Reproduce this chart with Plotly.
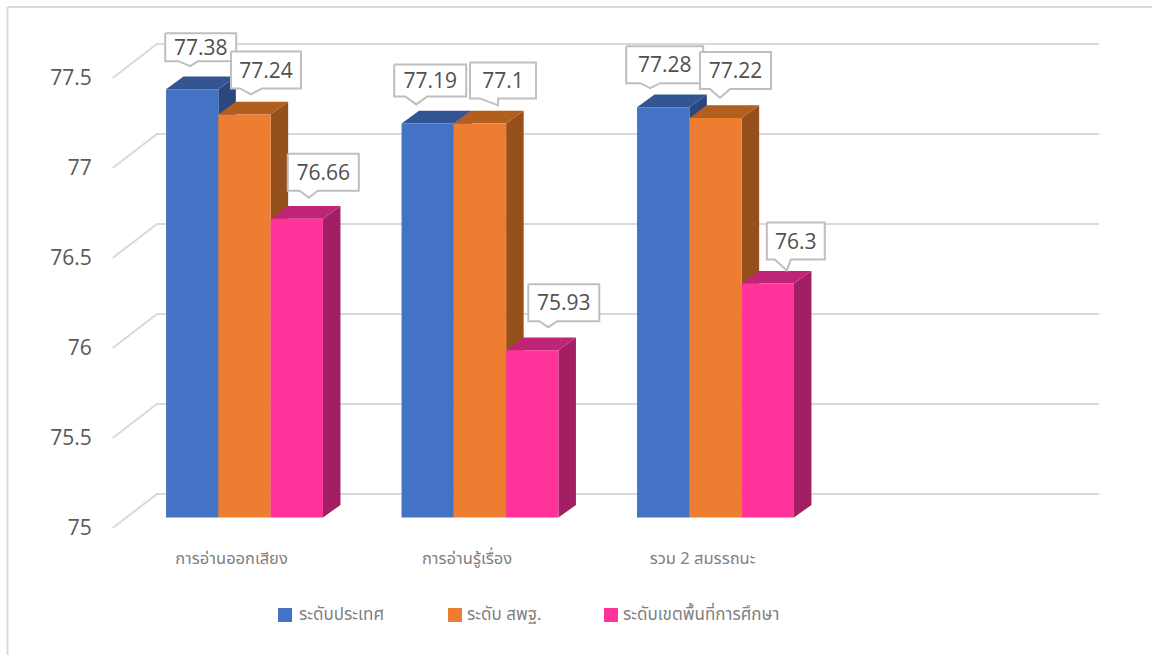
import plotly.graph_objects as go

categories = ["การอ่านออกเสียง", "การอ่านรู้เรื่อง", "รวม 2 สมรรถนะ"]
series_names = ["ระดับประเทศ", "ระดับ สพฐ.", "ระดับเขตพื้นที่การศึกษา"]
national = [77.38, 77.19, 77.28]
obec = [77.24, 77.19, 77.22]      # middle bar is drawn at 77.19 in the picture
district = [76.66, 75.93, 76.3]
national_labels = ["77.38", "77.19", "77.28"]
obec_labels = ["77.24", "77.1", "77.22"]   # the picture's label text reads 77.1
district_labels = ["76.66", "75.93", "76.3"]
y_ticks = [75, 75.5, 76, 76.5, 77, 77.5]

# styling
front_colors = ["#4472C4", "#ED7D31", "#FF3399"]
top_colors = ["#335593", "#B25E1F", "#BF2576"]
side_colors = ["#2A4780", "#95501C", "#A31F63"]
GRID = "#D9D9D9"
FONT_NUM = "Open Sans, sans-serif"
FONT_THAI = "Noto Sans Thai, Noto Sans, Liberation Sans, sans-serif"

# pixel layout
W, H = 1152, 655
L, R, T, B = 112, 1100, 10, 546
K = 180.0          # px per value unit
U = 235.5          # px per category
X0 = 244.5         # px of first group's centre
BASE_PX = 517.6    # px of value 75 in the bars' plane
FRONT_PX = 528.0   # px of value 75 on the chart's front edge
BACK_PX = 494.0    # px of value 75 on the back wall
BAR_W = 52.3
DX, DY = 17.5, 12.7
TEXT_NUDGE = 2.5   # px, label text sits slightly below the box centre


def xd(px):
    return (px - X0) / U


def xp(px):
    return (px - L) / (R - L)


def yp(px):
    return (B - px) / (B - T)


def dy(px):
    return px / K


# label callout geometry relative to each bar's top centre, in px:
# left, right, top, bottom, tip x, tip y, notch left, notch right
callouts = [
    [(-27, 44, -56, -28, -2, -23, -14, 6), (-13.5, 56.5, -63, -26, 6.5, -20, -4.5, 17.5), (-9, 62, -65, -28, 12, -21, 3, 21)],
    [(-33.5, 38.5, -59, -27, -11.5, -19, -22.5, -0.5), (-10, 56, -61, -25, 18, -18, 0, 18), (-4, 67, -66, -29, 16, -23, 7, 25)],
    [(-37, 40, -61, -24, -13, -19, -23, -3), (-15.5, 55.5, -66, -29, 4.5, -20, -5.5, 14.5), (-1, 57, -61, -24, 19, -13, 7, 23)],
]

all_series = [national, obec, district]
all_labels = [national_labels, obec_labels, district_labels]
fig = go.Figure()

# axis y (front-edge plane): value v sits at FRONT_PX - (v-75)*K
y1_lo = 75 - (B - FRONT_PX) / K
y1_hi = 75 + (FRONT_PX - T) / K
# axis y2 (bars' plane)
y2_lo = 75 - (B - BASE_PX) / K
y2_hi = 75 + (BASE_PX - T) / K
to_y1 = (FRONT_PX - BASE_PX) / K   # shift from y2 value to y1 value

# wall lines
for v in y_ticks:
    back = v + (FRONT_PX - BACK_PX) / K
    fig.add_trace(go.Scatter(
        x=[xd(112.7), xd(157), xd(1099)], y=[v, back, back], mode="lines",
        line=dict(color=GRID, width=2), showlegend=False, hoverinfo="skip",
        xaxis="x", yaxis="y"))

# top and side faces, back to front
for s, vals in enumerate(all_series):
    off = (s - 1) * BAR_W / U
    half = BAR_W / 2 / U
    tx, ty, sx, sy = [], [], [], []
    for i, v in enumerate(vals):
        a = i + off - half
        b = i + off + half
        d = DX / U
        h = dy(DY)
        yv = v + to_y1
        tx += [a, b, b + d, a + d, a, None]
        ty += [yv, yv, yv + h, yv + h, yv, None]
        sx += [b, b + d, b + d, b, b, None]
        sy += [yv, yv + h, 75 + to_y1 + h, 75 + to_y1, yv, None]
    fig.add_trace(go.Scatter(x=sx, y=sy, mode="lines", fill="toself", fillcolor=side_colors[s],
                             line=dict(width=0, color=side_colors[s]), showlegend=False,
                             hoverinfo="skip", xaxis="x", yaxis="y"))
    fig.add_trace(go.Scatter(x=tx, y=ty, mode="lines", fill="toself", fillcolor=top_colors[s],
                             line=dict(width=0, color=top_colors[s]), showlegend=False,
                             hoverinfo="skip", xaxis="x", yaxis="y"))

# front faces
for s, vals in enumerate(all_series):
    fig.add_trace(go.Bar(
        x=list(range(len(categories))), y=[v - 75 for v in vals], base=75,
        name=series_names[s], marker=dict(color=front_colors[s], line=dict(width=0)),
        customdata=vals, hovertemplate="%{customdata}<extra>" + series_names[s] + "</extra>",
        showlegend=False, xaxis="x", yaxis="y2"))

# callouts
order = [(0, 0), (1, 0), (2, 0), (0, 1), (1, 1), (2, 1), (0, 2), (1, 2), (2, 2)]
for s, c in order:
    v = all_series[s][c]
    l, r, t, b, tipx, tipy, nl, nr = callouts[c][s]
    cx = c + (s - 1) * BAR_W / U
    xs = [l, r, r, nr, tipx, nl, l, l]
    ys = [t, t, b, b, tipy, b, b, t]
    fig.add_trace(go.Scatter(
        x=[cx + p / U for p in xs], y=[v - q / K for q in ys], mode="lines", fill="toself",
        fillcolor="white", line=dict(color="#BFBFBF", width=2), showlegend=False,
        hoverinfo="skip", xaxis="x", yaxis="y2"))
    fig.add_trace(go.Scatter(
        x=[cx + (l + r) / 2 / U], y=[v - ((t + b) / 2 + TEXT_NUDGE) / K], mode="text",
        text=[all_labels[s][c]], textposition="middle center",
        textfont=dict(family=FONT_NUM, size=21, color="#505050"),
        showlegend=False, hoverinfo="skip", xaxis="x", yaxis="y2"))

# legend row
legend_swatch_px = [278, 448, 604]
legend_text_px = [297, 465, 621]
LEG_Y = 615
shapes = [
    dict(type="line", xref="paper", yref="paper", x0=xp(7.5), x1=xp(7.5),
         y0=yp(7), y1=yp(655), line=dict(color=GRID, width=2)),
    dict(type="line", xref="paper", yref="paper", x0=xp(7.5), x1=xp(1152),
         y0=yp(7), y1=yp(7), line=dict(color=GRID, width=2)),
]
annotations = []
for s, name in enumerate(series_names):
    shapes.append(dict(type="rect", xref="paper", yref="paper",
                       x0=xp(legend_swatch_px[s]), x1=xp(legend_swatch_px[s] + 14),
                       y0=yp(LEG_Y - 7), y1=yp(LEG_Y + 7),
                       fillcolor=front_colors[s], line=dict(width=0)))
    annotations.append(dict(xref="paper", yref="paper", x=xp(legend_text_px[s]), y=yp(LEG_Y),
                            xanchor="left", yanchor="middle", showarrow=False, text=name,
                            font=dict(family=FONT_THAI, size=17, color="#7F7F7F")))

fig.update_layout(
    width=W, height=H,
    margin=dict(l=L, r=W - R, t=T, b=H - B, pad=0),
    paper_bgcolor="white", plot_bgcolor="rgba(0,0,0,0)",
    showlegend=False,
    barmode="group", bargap=1 - 3 * BAR_W / U, bargroupgap=0,
    xaxis=dict(range=[xd(L), xd(R)], tickmode="array",
               tickvals=[i + xd(231.5) for i in range(len(categories))], ticktext=categories,
               showgrid=False, zeroline=False, showline=False, ticks="",
               tickfont=dict(family=FONT_THAI, size=16.5, color="#7F7F7F")),
    yaxis=dict(range=[y1_lo, y1_hi], tickmode="array", tickvals=y_ticks,
               ticktext=[str(t) for t in y_ticks],
               showgrid=False, zeroline=False, showline=False,
               ticks="outside", ticklen=15, tickcolor="rgba(0,0,0,0)",
               tickfont=dict(family=FONT_NUM, size=21, color="#595959")),
    yaxis2=dict(range=[y2_lo, y2_hi], overlaying="y", visible=False),
    shapes=shapes,
    annotations=annotations,
)

fig.write_html("out.html", config={"displayModeBar": False},
               post_script="document.body.style.margin='0';")
